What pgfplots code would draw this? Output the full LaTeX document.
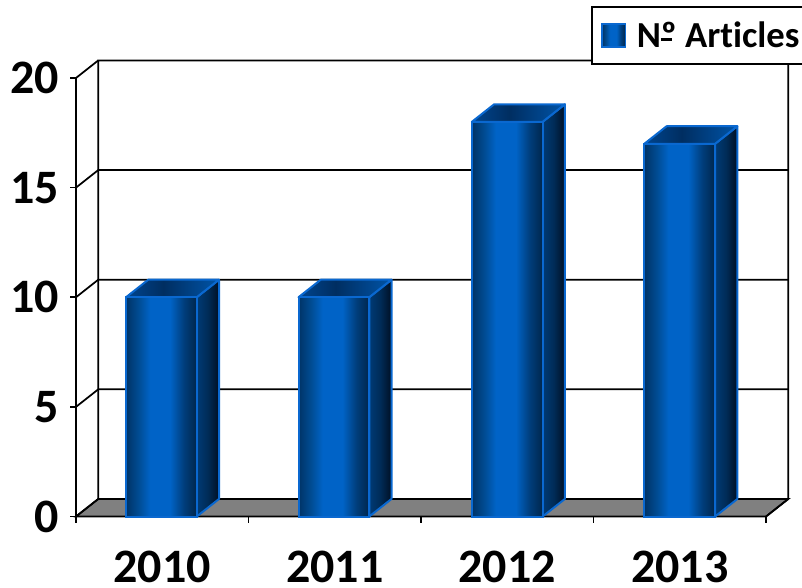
\documentclass[border=0pt]{standalone}
\usepackage{fontspec}
\setmainfont{Carlito}[Ligatures=NoCommon]
\usepackage{pgfplots}
\pgfplotsset{compat=1.18}

\definecolor{baredge}{HTML}{0A68D0}
\definecolor{floorgray}{HTML}{808080}
% tikz maps 25bp..75bp onto the width of the path
\pgfdeclarehorizontalshading{barfront}{100bp}{rgb(0bp)=(0,0.20,0.40);
  rgb(25bp)=(0,0.20,0.40); rgb(34bp)=(0,0.30,0.58); rgb(42bp)=(0,0.39,0.78);
  rgb(56bp)=(0,0.39,0.78); rgb(66bp)=(0,0.24,0.48); rgb(75bp)=(0,0.15,0.30);
  rgb(100bp)=(0,0.15,0.30)}
\pgfdeclarehorizontalshading{barside}{100bp}{rgb(0bp)=(0,0.23,0.46);
  rgb(25bp)=(0,0.23,0.46); rgb(50bp)=(0,0.17,0.34); rgb(75bp)=(0,0.06,0.14);
  rgb(100bp)=(0,0.06,0.14)}
\pgfdeclarehorizontalshading{bartop}{100bp}{rgb(0bp)=(0,0.27,0.56);
  rgb(25bp)=(0,0.27,0.56); rgb(45bp)=(0,0.18,0.38); rgb(75bp)=(0,0.33,0.66);
  rgb(100bp)=(0,0.33,0.66)}

\pgfplotsset{
  wall/.style={black, line width=1.3pt, forget plot},
  side/.style={shade, shading=barside, draw=baredge, line width=1.5pt, line join=round, forget plot},
  top/.style={shade, shading=bartop, draw=baredge, line width=1.5pt, line join=round, forget plot},
  front/.style={ybar, bar width=0.41, bar shift=0pt, shade, shading=barfront, draw=baredge, line width=1.5pt, forget plot},
}

\begin{document}
\begin{tikzpicture}
\useasboundingbox (0,0) rectangle (601.5pt,440.25pt);
\begin{axis}[
  at={(57pt,52.875pt)}, anchor=south west,
  scale only axis, width=517.5pt, height=328.9pt,
  xmin=0, xmax=4, ymin=0, ymax=20, clip=false,
  axis x line=bottom, axis y line=left, axis line style={-, line width=1.3pt},
  axis on top=false,
  tick align=outside, tick style={black, line width=1.3pt},
  major tick length=4.5pt, minor tick length=4.5pt,
  xtick={0.5,1.5,2.5,3.5}, xticklabels={2010,2011,2012,2013},
  minor xtick={0,1,2,3,4}, major x tick style={draw=none},
  ytick={0,5,10,15,20},
  /pgf/number format/assume math mode=true,
  tick label style={font=\fontsize{36}{40}\selectfont\bfseries},
  xticklabel style={inner sep=0pt, yshift=-21pt},
  yticklabel style={xshift=-4.7pt},
  no markers,
  legend style={at={(0.7464,1.164)}, anchor=north west, draw=black, fill=white,
    line width=1.3pt, font=\fontsize{27.5}{30}\selectfont\bfseries,
    inner xsep=7pt, inner ysep=9pt, legend cell align=left},
]
\addlegendimage{legend image code/.code={
  \path[draw=none] (0pt,0pt) -- (24pt,0pt);
  \draw[shade, shading=barfront, draw=baredge, line width=1.3pt] (0pt,-8.5pt) rectangle (17.5pt,8.5pt);}}
\addlegendentry{N\rlap{\rule[5pt]{8.5pt}{1.7pt}}º Articles}

% floor and walls
\addplot[wall, fill=floorgray] coordinates {(0,0) (0.129,0.8) (4.129,0.8) (4,0)} -- cycle;
\addplot[wall] coordinates {(0,0) (0.129,0.8) (0.129,20.8) (4.129,20.8) (4.129,0.8) (4,0)};
\addplot[wall] coordinates {(0,20) (0.129,20.8)};
\addplot[wall] coordinates {(0,15) (0.129,15.8) (4.129,15.8)};
\addplot[wall] coordinates {(0,10) (0.129,10.8) (4.129,10.8)};
\addplot[wall] coordinates {(0,5) (0.129,5.8) (4.129,5.8)};

% 2010
\addplot[side] coordinates {(0.70,0) (0.829,0.8) (0.829,10.8) (0.70,10)} -- cycle;
\addplot[top] coordinates {(0.29,10) (0.419,10.8) (0.829,10.8) (0.70,10)} -- cycle;
\addplot[front] coordinates {(0.495,10)};
% 2011
\addplot[side] coordinates {(1.70,0) (1.829,0.8) (1.829,10.8) (1.70,10)} -- cycle;
\addplot[top] coordinates {(1.29,10) (1.419,10.8) (1.829,10.8) (1.70,10)} -- cycle;
\addplot[front] coordinates {(1.495,10)};
% 2012
\addplot[side] coordinates {(2.705,0) (2.834,0.8) (2.834,18.8) (2.705,18)} -- cycle;
\addplot[top] coordinates {(2.295,18) (2.424,18.8) (2.834,18.8) (2.705,18)} -- cycle;
\addplot[front] coordinates {(2.5,18)};
% 2013
\addplot[side] coordinates {(3.705,0) (3.834,0.8) (3.834,17.8) (3.705,17)} -- cycle;
\addplot[top] coordinates {(3.295,17) (3.424,17.8) (3.834,17.8) (3.705,17)} -- cycle;
\addplot[front] coordinates {(3.5,17)};
\end{axis}
\end{tikzpicture}
\end{document}
